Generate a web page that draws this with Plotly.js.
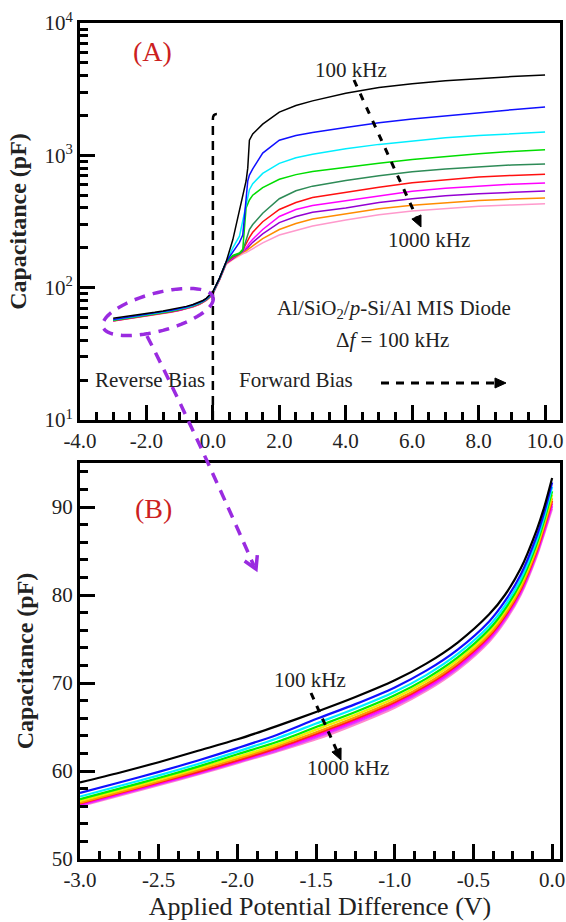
<!DOCTYPE html>
<html>
<head>
<meta charset="utf-8">
<script src="https://cdn.plot.ly/plotly-3.0.1.min.js"></script>
<style>html,body{margin:0;padding:0;background:#fff;}#chart{width:566px;height:922px;}</style>
</head>
<body>
<div id="chart"></div>
<script>
// ---------------- DATA ----------------
const freqLabels = ["100 kHz","200 kHz","300 kHz","400 kHz","500 kHz","600 kHz","700 kHz","800 kHz","900 kHz","1000 kHz"];

// Reverse bias region (V) — shared by panel (B) and left part of panel (A)
const vRev = [-3, -2.75, -2.5, -2.25, -2, -1.75, -1.5, -1.25, -1, -0.8, -0.6, -0.4, -0.3, -0.2, -0.1, -0.05, 0];
const cRev100  = [58.7, 59.8, 61.0, 62.3, 63.6, 65.1, 66.7, 68.4, 70.3, 72.2, 74.6, 77.8, 80.0, 83.0, 87.3, 90.0, 93.3];
const cRev200  = [57.5, 58.7, 59.9, 61.2, 62.6, 64.1, 65.9, 67.6, 69.5, 71.4, 73.8, 77.0, 79.3, 82.3, 86.6, 89.4, 92.8];
const cRev300  = [57.1, 58.3, 59.5, 60.8, 62.2, 63.7, 65.4, 67.1, 69.0, 70.9, 73.3, 76.5, 78.8, 81.8, 86.1, 88.9, 92.3];
const cRev400  = [56.8, 58.0, 59.2, 60.5, 61.9, 63.3, 65.0, 66.7, 68.6, 70.5, 72.9, 76.1, 78.4, 81.4, 85.7, 88.5, 91.8];
const cRev500  = [56.6, 57.8, 59.0, 60.3, 61.6, 63.0, 64.7, 66.4, 68.3, 70.2, 72.6, 75.8, 78.1, 81.1, 85.4, 88.2, 91.4];
const cRev600  = [56.4, 57.6, 58.8, 60.1, 61.4, 62.8, 64.4, 66.1, 68.0, 69.9, 72.3, 75.5, 77.8, 80.8, 85.1, 87.9, 91.0];
const cRev700  = [56.3, 57.5, 58.7, 59.9, 61.2, 62.6, 64.2, 65.9, 67.8, 69.7, 72.1, 75.3, 77.6, 80.6, 84.9, 87.7, 90.7];
const cRev800  = [56.2, 57.4, 58.6, 59.8, 61.1, 62.5, 64.0, 65.7, 67.6, 69.5, 71.9, 75.1, 77.4, 80.4, 84.7, 87.4, 90.4];
const cRev900  = [56.1, 57.3, 58.5, 59.7, 61.0, 62.3, 63.8, 65.5, 67.4, 69.3, 71.7, 74.9, 77.2, 80.2, 84.5, 87.2, 90.1];
const cRev1000 = [56.0, 57.2, 58.4, 59.6, 60.9, 62.2, 63.6, 65.3, 67.2, 69.1, 71.5, 74.7, 77.0, 80.0, 84.3, 87.0, 89.8];

// Forward bias region (V) — right part of panel (A)
const vFwd = [0.2, 0.4, 0.6, 0.8, 0.9, 1.0, 1.05, 1.1, 1.2, 1.5, 2.0, 2.5, 3.0, 4.0, 5.0, 6.0, 7.0, 8.0, 9.0, 10.0];
const cFwd100  = [118, 157, 230, 380, 490, 640, 800, 1300, 1450, 1720, 2120, 2380, 2580, 2950, 3250, 3480, 3660, 3810, 3940, 4050];
const cFwd200  = [118, 157, 185, 220, 250, 500, 640, 710, 790, 1040, 1300, 1410, 1490, 1620, 1760, 1880, 1990, 2100, 2210, 2320];
const cFwd300  = [117, 156, 200, 245, 320, 440, 500, 550, 610, 730, 870, 960, 1020, 1120, 1210, 1290, 1360, 1410, 1460, 1500];
const cFwd400  = [117, 156, 175, 183, 195, 400, 430, 460, 500, 570, 660, 715, 755, 815, 870, 930, 985, 1030, 1070, 1100];
const cFwd500  = [117, 156, 172, 180, 190, 230, 255, 275, 300, 365, 470, 540, 585, 645, 700, 750, 790, 820, 845, 860];
const cFwd600  = [116, 155, 170, 180, 192, 215, 228, 240, 262, 315, 390, 440, 480, 525, 575, 620, 655, 685, 705, 720];
const cFwd700  = [116, 154, 168, 182, 188, 200, 209, 218, 232, 275, 345, 390, 417, 452, 495, 535, 565, 588, 605, 618];
const cFwd800  = [115, 153, 166, 182, 187, 195, 200, 207, 220, 255, 310, 345, 372, 400, 440, 470, 495, 512, 526, 538];
const cFwd900  = [115, 152, 165, 180, 185, 190, 194, 198, 208, 235, 275, 305, 330, 360, 395, 420, 440, 455, 467, 476];
const cFwd1000 = [114, 150, 163, 175, 180, 184, 187, 190, 197, 218, 250, 272, 292, 325, 355, 380, 398, 412, 422, 430];

const colorsA = ["#000000","#1010ff","#00eeff","#00dd00","#2e8b57","#ff1010","#ff00ff","#9400d3","#ff8c00","#ff99cc"];
const colorsB = ["#000000","#1010ff","#00eeff","#00ee00","#eeee00","#ff9900","#ff2020","#ff00ff","#e040ff","#ff88cc"];

const xTickValsA = [-4, -2, 0, 2, 4, 6, 8, 10];
const xTickTextA = ["-4.0","-2.0","0.0","2.0","4.0","6.0","8.0","10.0"];
const yTickValsA = [10, 100, 1000, 10000];
const yTickTextA = ["10<sup>1</sup>","10<sup>2</sup>","10<sup>3</sup>","10<sup>4</sup>"];
const xTickValsB = [-3, -2.5, -2, -1.5, -1, -0.5, 0];
const xTickTextB = ["-3.0","-2.5","-2.0","-1.5","-1.0","-0.5","0.0"];
const yTickValsB = [50, 60, 70, 80, 90];

// ---------------- TRACES ----------------
const revSets = [cRev100,cRev200,cRev300,cRev400,cRev500,cRev600,cRev700,cRev800,cRev900,cRev1000];
const fwdSets = [cFwd100,cFwd200,cFwd300,cFwd400,cFwd500,cFwd600,cFwd700,cFwd800,cFwd900,cFwd1000];
const traces = [];
for (let i = revSets.length - 1; i >= 0; i--) {
  traces.push({
    x: vRev.concat(vFwd), y: revSets[i].concat(fwdSets[i]),
    xaxis: "x", yaxis: "y", type: "scatter", mode: "lines",
    line: {color: colorsA[i], width: 1.5}, name: freqLabels[i], showlegend: false, hoverinfo: "skip"
  });
}
for (let i = revSets.length - 1; i >= 0; i--) {
  traces.push({
    x: vRev, y: revSets[i],
    xaxis: "x2", yaxis: "y2", type: "scatter", mode: "lines",
    line: {color: colorsB[i], width: 2.2, shape: "spline", smoothing: 0.8}, name: freqLabels[i], showlegend: false, hoverinfo: "skip"
  });
}

// ---------------- DECORATION HELPERS (pixel -> paper) ----------------
const ML = 80, MR = 6, MT = 23, MB = 63, FW = 566, FH = 922;
const PW = FW - ML - MR, PH = FH - MT - MB;
const px = x => (x - ML) / PW;
const py = y => (FH - MB - y) / PH;
const pt = (x, y) => px(x).toFixed(5) + "," + py(y).toFixed(5);

const serif = "Liberation Serif";
const shapes = [];
const annotations = [];

function dashedArrow(x0, y0, x1, y1, color, width, dash, headLen, headHalf) {
  const dx = x1 - x0, dy = y1 - y0, L = Math.hypot(dx, dy);
  const ux = dx / L, uy = dy / L, nx = -uy, ny = ux;
  const bx = x1 - ux * headLen, by = y1 - uy * headLen;
  shapes.push({type: "path", xref: "paper", yref: "paper",
    path: "M" + pt(x0, y0) + " L" + pt(bx, by),
    line: {color: color, width: width, dash: dash}});
  shapes.push({type: "path", xref: "paper", yref: "paper",
    path: "M" + pt(bx + nx * headHalf, by + ny * headHalf) + " L" + pt(x1, y1) + " L" + pt(bx - nx * headHalf, by - ny * headHalf) + " Z",
    fillcolor: color, line: {color: color, width: 1}});
}

// vertical dashed line at V = 0 in panel A
const x0pxA = ML + PW * (0 - (-4)) / (10.45 - (-4));
shapes.push({type: "path", xref: "paper", yref: "paper",
  path: "M" + pt(x0pxA, 420) + " L" + pt(x0pxA, 119) + " Q" + pt(x0pxA, 114) + " " + pt(x0pxA + 4, 114),
  line: {color: "#000", width: 2.5, dash: "9px,6px"}});

// purple dashed ellipse around the reverse-bias region
(function () {
  const cx = 158, cy = 312, a = 57, b = 19, ang = -15 * Math.PI / 180;
  let d = "";
  for (let k = 0; k <= 72; k++) {
    const t = 2 * Math.PI * k / 72;
    const ex = a * Math.cos(t), ey = b * Math.sin(t);
    const X = cx + ex * Math.cos(ang) - ey * Math.sin(ang);
    const Y = cy + ex * Math.sin(ang) + ey * Math.cos(ang);
    d += (k === 0 ? "M" : " L") + pt(X, Y);
  }
  shapes.push({type: "path", xref: "paper", yref: "paper", path: d,
    line: {color: "#9a2be0", width: 3.5, dash: "11px,8px"}});
})();

// purple curved dashed arrow from ellipse to panel B
shapes.push({type: "path", xref: "paper", yref: "paper",
  path: "M" + pt(147, 336) + " Q" + pt(190, 420) + " " + pt(254, 566),
  line: {color: "#9a2be0", width: 3.5, dash: "11px,8px"}});
(function () {
  const tx = 256, ty = 569, ux = 0.42, uy = 0.907, nx = -uy, ny = ux, hl = 12, hh = 7;
  const bx = tx - ux * hl, by = ty - uy * hl;
  shapes.push({type: "path", xref: "paper", yref: "paper",
    path: "M" + pt(bx + nx * hh, by + ny * hh) + " L" + pt(tx, ty) + " L" + pt(bx - nx * hh, by - ny * hh),
    line: {color: "#9a2be0", width: 3.5}});
})();

// black dashed arrows
dashedArrow(354, 80, 421, 227, "#000", 3, "7px,8px", 11, 5);   // panel A frequency arrow
dashedArrow(381, 383, 506, 383, "#000", 3, "8px,7px", 11, 5);  // forward bias arrow
dashedArrow(311, 693, 341, 760, "#000", 3, "7px,7px", 11, 5);  // panel B frequency arrow

function label(x, y, text, size, color) {
  annotations.push({xref: "paper", yref: "paper", x: px(x), y: py(y), text: text,
    showarrow: false, xanchor: "center", yanchor: "middle", align: "center",
    font: {family: serif, size: size, color: color || "#222"}});
}
label(152, 52, "(A)", 28, "#cc1f1f");
label(351, 70, "100 kHz", 21);
label(429, 240, "1000 kHz", 21);
label(394, 309, "Al/SiO<sub>2</sub>/<i>p</i>-Si/Al MIS Diode", 21);
label(392, 340, "Δ<i>f</i> = 100 kHz", 21);
label(150, 380, "Reverse Bias", 21);
label(296, 380, "Forward Bias", 21);
label(153, 508, "(B)", 28, "#cc1f1f");
label(310, 680, "100 kHz", 21);
label(348, 768, "1000 kHz", 21);

// ---------------- LAYOUT ----------------
const minorLogVals = [];
[10, 100, 1000].forEach(d => { for (let m = 2; m <= 9; m++) minorLogVals.push(m * d); });

const axCommon = {
  showgrid: false, zeroline: false, showline: true, linecolor: "#000", linewidth: 3, mirror: true,
  ticks: "inside", ticklen: 15, tickwidth: 3, tickcolor: "#000",
  tickfont: {family: serif, size: 21, color: "#222"}
};

const layout = {
  width: FW, height: FH,
  margin: {l: ML, r: MR, t: MT, b: MB},
  paper_bgcolor: "#fff", plot_bgcolor: "#fff",
  font: {family: serif, size: 21, color: "#222"},
  showlegend: false,
  xaxis: Object.assign({}, axCommon, {
    domain: [0, 1], anchor: "y", range: [-4, 10.45],
    tickmode: "array", tickvals: xTickValsA, ticktext: xTickTextA,
    minor: {tickmode: "linear", tick0: -4, dtick: 0.5, ticks: "inside", ticklen: 8, tickwidth: 3, tickcolor: "#000"}
  }),
  yaxis: Object.assign({}, axCommon, {
    domain: [py(420), 1], anchor: "x", type: "log", range: [1, 4],
    tickmode: "array", tickvals: yTickValsA, ticktext: yTickTextA,
    minor: {tickmode: "array", tickvals: minorLogVals, ticks: "inside", ticklen: 8, tickwidth: 3, tickcolor: "#000"},
    title: {text: "<b>Capacitance (pF)</b>", font: {family: serif, size: 24, color: "#222"}, standoff: 12}
  }),
  xaxis2: Object.assign({}, axCommon, {
    domain: [0, 1], anchor: "y2", range: [-3, 0.05],
    tickmode: "array", tickvals: xTickValsB, ticktext: xTickTextB,
    minor: {tickmode: "linear", tick0: -3, dtick: 0.125, ticks: "inside", ticklen: 8, tickwidth: 3, tickcolor: "#000"},
    title: {text: "Applied Potential Difference (V)", font: {family: serif, size: 26, color: "#222"}, standoff: 6}
  }),
  yaxis2: Object.assign({}, axCommon, {
    domain: [0, py(463)], anchor: "x2", range: [50, 95],
    tickmode: "array", tickvals: yTickValsB,
    minor: {tickmode: "linear", tick0: 50, dtick: 2, ticks: "inside", ticklen: 8, tickwidth: 3, tickcolor: "#000"},
    title: {text: "<b>Capacitance (pF)</b>", font: {family: serif, size: 24, color: "#222"}, standoff: 12}
  }),
  shapes: shapes,
  annotations: annotations
};

Plotly.newPlot("chart", traces, layout, {displayModeBar: false, responsive: false});
</script>
</body>
</html>
